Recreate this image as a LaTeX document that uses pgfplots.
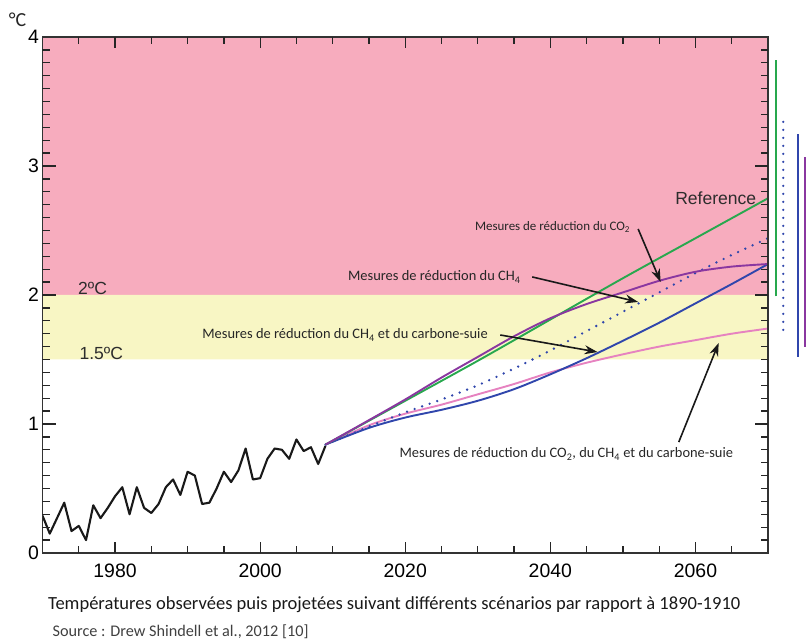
\documentclass[border=0pt]{standalone}
\usepackage{fontspec}
\setmainfont{Carlito}
\newfontfamily\helv{Liberation Sans}
\usepackage{pgfplots}
\pgfplotsset{compat=1.18}
\usetikzlibrary{arrows.meta}

\definecolor{bandpink}{RGB}{247,172,190}
\definecolor{bandyellow}{RGB}{248,246,196}
\definecolor{refgreen}{RGB}{40,168,78}
\definecolor{co2purple}{RGB}{138,55,160}
\definecolor{bcblue}{RGB}{48,70,172}
\definecolor{allpink}{RGB}{230,130,192}
\definecolor{labgray}{RGB}{45,45,45}

\pgfplotsset{
  frame/.style={width=725.5bp, height=516bp, scale only axis,
    xmin=1970, xmax=2070, ymin=0, ymax=4},
}

\begin{document}
\begin{tikzpicture}[
  note/.style={font=\fontsize{14.5}{16}\selectfont, text=black!85, inner sep=0pt},
  pointer/.style={-{Stealth[length=13bp,width=9bp]}, line width=1.6bp, black!90},
  tk/.style={black!85, line width=1.3bp}]
% data layer: bands and series
\begin{axis}[frame, hide axis]
\addplot[draw=none, fill=bandpink] coordinates {(1970,2) (2070,2) (2070,4) (1970,4)} \closedcycle;
\addplot[draw=none, fill=bandyellow] coordinates {(1970,1.5) (2070,1.5) (2070,2) (1970,2)} \closedcycle;

% observed anomalies
\addplot[black!90, line width=2.1bp, line join=round] coordinates {
 (1970,0.29) (1971,0.15) (1972,0.27) (1973,0.39) (1974,0.17) (1975,0.21)
 (1976,0.10) (1977,0.37) (1978,0.27) (1979,0.35) (1980,0.44) (1981,0.51)
 (1982,0.30) (1983,0.51) (1984,0.35) (1985,0.31) (1986,0.38) (1987,0.51)
 (1988,0.57) (1989,0.45) (1990,0.63) (1991,0.60) (1992,0.38) (1993,0.39)
 (1994,0.50) (1995,0.63) (1996,0.55) (1997,0.64) (1998,0.81) (1999,0.57)
 (2000,0.58) (2001,0.73) (2002,0.81) (2003,0.80) (2004,0.73) (2005,0.88)
 (2006,0.79) (2007,0.82) (2008,0.69) (2009,0.83)};

% projections
\addplot[allpink, line width=1.9bp, smooth] coordinates {
 (2009,0.84) (2015,0.99) (2020,1.08) (2025,1.15) (2030,1.23) (2035,1.31)
 (2040,1.40) (2045,1.475) (2050,1.54) (2055,1.60) (2060,1.65) (2065,1.70) (2070,1.74)};
\addplot[bcblue, line width=1.9bp, smooth] coordinates {
 (2009,0.84) (2015,0.97) (2020,1.05) (2025,1.11) (2030,1.18) (2035,1.27)
 (2040,1.385) (2045,1.51) (2050,1.645) (2055,1.785) (2060,1.935) (2065,2.085) (2070,2.24)};
\addplot[bcblue, line width=2.6bp, line cap=round, dash pattern=on 0bp off 8bp, smooth] coordinates {
 (2009,0.84) (2015,0.98) (2020,1.09) (2025,1.19) (2030,1.30) (2035,1.43)
 (2040,1.57) (2045,1.72) (2050,1.87) (2055,2.02) (2060,2.17) (2065,2.31) (2070,2.44)};
\addplot[refgreen, line width=1.9bp, smooth] coordinates {
 (2009,0.84) (2020,1.18) (2030,1.49) (2040,1.81) (2050,2.13) (2060,2.44) (2070,2.75)};
\addplot[co2purple, line width=1.9bp, smooth] coordinates {
 (2009,0.84) (2015,1.03) (2020,1.19) (2025,1.36) (2030,1.52) (2035,1.68)
 (2040,1.82) (2045,1.93) (2050,2.02) (2055,2.11) (2060,2.18) (2065,2.22) (2070,2.24)};
\end{axis}

% frame and tick labels
\begin{axis}[
  frame,
  xtick={1980,2000,2020,2040,2060},
  ytick={0,1,2,3,4},
  tick style={draw=none},
  axis line style={black!80, line width=1.6bp},
  /pgf/number format/assume math mode=true,
  /pgf/number format/1000 sep={},
  ticklabel style={font=\helv\fontsize{19.5}{20}\selectfont},
  xticklabel style={yshift=-7bp},
]
\addplot[draw=none] coordinates {(1970,0) (2070,4)};
\end{axis}

% overlay: tick marks, ranges, annotations and caption
\begin{axis}[frame, hide axis, clip=false]
% tick marks on all four sides, pointing inwards (lengths in axis units:
% 1 year = 7.255bp, 1 degree = 129bp)
\pgfplotsinvokeforeach{1975,1985,1990,1995,2005,2010,2015,2025,2030,2035,2045,2050,2055,2065}{
  \draw[tk] (axis cs:#1,0) -- (axis cs:#1,0.054);
  \draw[tk] (axis cs:#1,4) -- (axis cs:#1,3.946);
}
\pgfplotsinvokeforeach{1980,2000,2020,2040,2060}{
  \draw[tk] (axis cs:#1,0) -- (axis cs:#1,0.085);
  \draw[tk] (axis cs:#1,4) -- (axis cs:#1,3.915);
}
\pgfplotsinvokeforeach{0.1,0.2,0.3,0.4,0.5,0.6,0.7,0.8,0.9,
  1.1,1.2,1.3,1.4,1.5,1.6,1.7,1.8,1.9,
  2.1,2.2,2.3,2.4,2.5,2.6,2.7,2.8,2.9,
  3.1,3.2,3.3,3.4,3.5,3.6,3.7,3.8,3.9}{
  \draw[tk] (axis cs:1970,#1) -- (axis cs:1970.97,#1);
  \draw[tk] (axis cs:2070,#1) -- (axis cs:2069.03,#1);
}
\pgfplotsinvokeforeach{1,2,3}{
  \draw[tk] (axis cs:1970,#1) -- (axis cs:1971.8,#1);
  \draw[tk] (axis cs:2070,#1) -- (axis cs:2068.2,#1);
}

\addplot[refgreen, line width=2.2bp] coordinates {(2071.1,1.99) (2071.1,3.82)};
\addplot[bcblue, line width=2.6bp, line cap=round, dash pattern=on 0bp off 8bp] coordinates {(2072.1,1.73) (2072.1,3.38)};
\addplot[bcblue, line width=1.9bp] coordinates {(2074.1,1.52) (2074.1,3.25)};
\addplot[co2purple, line width=1.9bp] coordinates {(2075.1,1.60) (2075.1,3.07)};

\node[font=\helv\fontsize{17.6}{18}\selectfont, text=labgray] at (axis cs:2062.8,2.752) {Reference};
\node[font=\helv\fontsize{17.6}{18}\selectfont, text=labgray] at (axis cs:1976.9,2.047) {2ºC};
\node[font=\helv\fontsize{17.6}{18}\selectfont, text=labgray] at (axis cs:1978.1,1.550) {1.5ºC};
\node[font=\fontsize{20}{20}\selectfont, text=black!85] at (axis cs:1966.55,4.13) {°C};

\node[note, font=\fontsize{13}{15}\selectfont] at (axis cs:2040.3,2.527) {Mesures de réduction du CO\textsubscript{2}};
\node[note] at (axis cs:2024.0,2.140) {Mesures de réduction du CH\textsubscript{4}};
\node[note] at (axis cs:2011.7,1.690) {Mesures de réduction du CH\textsubscript{4} et du carbone-suie};
\node[note, font=\fontsize{14.5}{16}\selectfont] at (axis cs:2042.2,0.767) {Mesures de réduction du CO\textsubscript{2}, du CH\textsubscript{4} et du carbone-suie};

\draw[pointer] (axis cs:2052.1,2.512) -- (axis cs:2055.2,2.101);
\draw[pointer] (axis cs:2037.5,2.140) -- (axis cs:2052.1,1.946);
\draw[pointer] (axis cs:2033.1,1.690) -- (axis cs:2046.5,1.558);
\draw[pointer] (axis cs:2057.7,0.860) -- (axis cs:2063.2,1.628);

\node[font=\fontsize{18.6}{20}\selectfont, text=black!90] at (axis cs:2018.48,-0.403)
  {Températures observées puis projetées suivant différents scénarios par rapport à 1890-1910};
\node[font=\fontsize{16.3}{18}\selectfont, text=black!75, anchor=west] at (axis cs:1970.9,-0.612)
  {Source : Drew Shindell et al., 2012 [10]};
\end{axis}
\pgfresetboundingbox
\path[use as bounding box] (-42.5bp,-89bp) rectangle (765.5bp,553bp);
\end{tikzpicture}
\end{document}
